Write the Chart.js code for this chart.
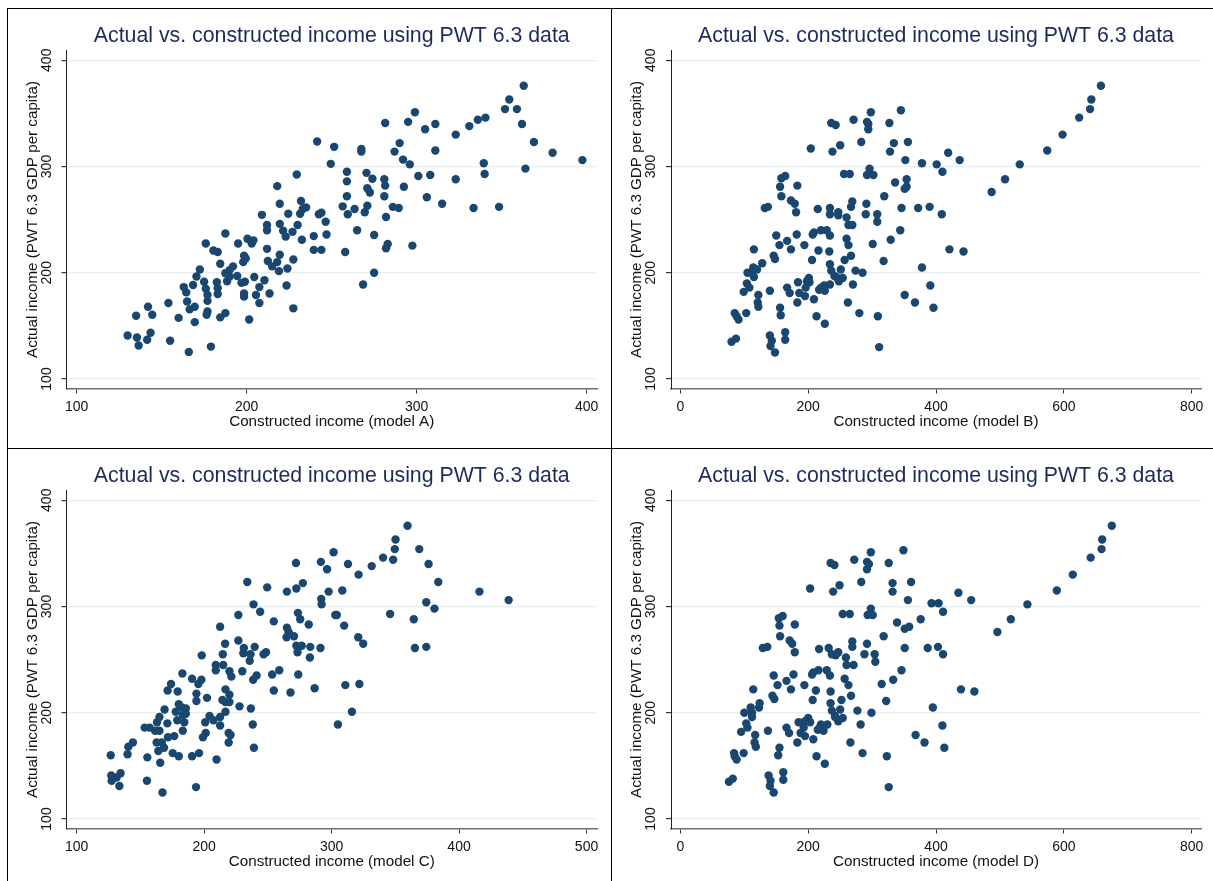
<!DOCTYPE html>
<html>
<head>
<meta charset="utf-8">
<script src="https://cdn.jsdelivr.net/npm/chart.js@4.4.1/dist/chart.umd.min.js"></script>
<style>
  html, body { margin: 0; padding: 0; background: #fff; overflow: hidden; }
  body { width: 1213px; height: 881px; position: relative; }
  canvas { position: absolute; }
  .rule { position: absolute; background: #000; z-index: 5; }
</style>
</head>
<body>
<div class="rule" style="left:7px; top:8px; width:1206px; height:1px;"></div>
<div class="rule" style="left:7px; top:8px; width:1px; height:873px;"></div>
<div class="rule" style="left:611px; top:8px; width:1px; height:873px;"></div>
<div class="rule" style="left:7px; top:448px; width:1206px; height:1px;"></div>

<canvas id="panelA" width="603" height="439" style="left:8px; top:9px;"></canvas>
<canvas id="panelB" width="603" height="439" style="left:612px; top:9px;"></canvas>
<canvas id="panelC" width="603" height="439" style="left:8px; top:449px;"></canvas>
<canvas id="panelD" width="603" height="439" style="left:612px; top:449px;"></canvas>

<script>
// shared text
const chartTitle = "Actual vs. constructed income using PWT 6.3 data";
const yTitle = "Actual income (PWT 6.3 GDP per capita)";
const yTicks = [100, 200, 300, 400];

// model A
const xTicksA = [100, 200, 300, 400];
const xA = [
  363, 354.5, 352, 359, 362, 369, 380, 397.5, 364, 348.5,
  333.5, 339.5, 340, 340.5, 336, 331, 323, 323, 315, 311,
  311, 308, 306, 305, 301, 299, 295, 296, 292, 290,
  287, 292.5, 297.5, 286, 289.5, 281.5, 281, 281.5, 281, 282,
  283, 282, 275, 268.5, 275, 274, 272.5, 271, 270.5, 271,
  269.5, 267.5, 267.5, 263.5, 265, 256.5, 259, 259, 259, 259.5,
  258, 251.5, 249.5, 241.5, 246.5, 247, 244, 242.5, 239.5, 239.5,
  244, 229.5, 232, 231.5, 235, 233, 230, 232.5, 227, 224.5,
  221.5, 223, 227.5, 224, 223.5, 227.5, 218, 219.5, 219.5, 219.5,
  218, 219, 212, 212, 212, 212.5, 215, 213.5, 209, 200.5,
  203, 204, 198.5, 199.5, 198, 197, 199, 198.5, 198.5, 204.5,
  207.5, 210.5, 205.5, 207.5, 201.5, 195, 194.5, 192, 190, 187.5,
  190, 188.5, 187.5, 184.5, 183, 180.5, 182.5, 183, 183, 187.5,
  184.5, 179, 176, 175, 176, 177, 177, 177, 176.5, 172.5,
  170.5, 168.5, 163, 164.5, 165, 166.5, 169.5, 169.5, 166, 160,
  154, 155, 142, 135, 144.5, 143.5, 141.5, 135.5, 136.5, 130
];
const yA = [
  376, 363, 354, 354, 340, 323, 313, 306, 298, 262,
  261, 303, 293, 346, 344, 338, 330, 288, 265, 340,
  315, 292, 271, 335, 291, 351, 342, 302, 306.5, 322,
  314, 281, 225.5, 262, 261, 341, 288, 282, 272, 252.5,
  227, 223, 200, 189, 235.5, 288.5, 275.5, 279.5, 294, 263,
  257, 316.5, 314, 260, 240, 262.5, 295, 286, 272, 255,
  219.5, 318.5, 302.5, 323.5, 248, 236, 256.5, 255, 234.5, 221.5,
  221.5, 292.5, 267.5, 255.5, 261.5, 260, 245, 231, 238.5, 255.5,
  239.5, 234, 212.5, 204, 188, 166.5, 281.5, 265, 246, 217,
  210, 201.5, 245, 240, 222.5, 211, 206, 180.5, 254.5, 232,
  227.5, 230.5, 216, 213.5, 210, 190.5, 191.5, 180.5, 177.5, 196,
  186.5, 193, 179, 171.5, 156, 227.5, 197, 206, 202.5, 199.5,
  196.5, 192, 237, 208.5, 219.5, 221, 191, 185.5, 180, 162,
  158, 130.5, 227.5, 191.5, 185, 179, 173.5, 163.5, 160.5, 203,
  196.5, 188.5, 186.5, 181.5, 173, 165.5, 168, 153.5, 125.5, 157.5,
  171.5, 136, 168, 159.5, 160.5, 143.5, 137, 139, 131.5, 141
];

// model B
const xTicksB = [0, 200, 400, 600, 800];
const xB = [
  658, 643, 641, 624, 598, 574, 531, 508, 487, 437,
  419, 401, 378, 410, 409, 390, 372, 421, 443, 378,
  391, 396, 367, 351, 345, 327, 334, 328, 356, 352,
  354, 351, 354, 336, 319, 346, 344, 329, 318, 301,
  311, 309, 308, 308, 298, 292, 294, 294, 296, 292,
  302, 291, 290, 283, 271, 269, 267, 269, 263, 260,
  260, 263, 267, 257, 251, 254, 248, 244, 270, 274,
  285, 280, 262, 256, 265, 250, 238, 236, 243, 247,
  234, 234, 247, 234, 233, 234, 236, 241, 234, 225,
  226, 226, 220, 217, 213, 209, 229, 220, 216, 215,
  209, 207, 206, 204, 201, 202, 198, 196, 195, 194,
  184, 186, 183, 183, 179, 181, 182, 173, 173, 167,
  167, 171, 164, 164, 164, 158, 156, 158, 156, 157,
  155, 150, 146, 148, 137, 132, 140, 140, 143, 141,
  148, 128, 122, 121, 122, 115, 114, 111, 115, 105,
  120, 104, 108, 99, 103, 85, 88, 91, 80, 87
];
const yB = [
  376, 363, 354, 346, 330, 315, 302, 288, 276, 306,
  313, 302, 303, 295, 255, 262, 261, 222, 220, 205,
  188, 167, 172, 179, 353, 341, 322, 314, 323, 306,
  288, 279, 281, 285, 272, 261, 240, 231, 211, 227,
  130, 159, 255, 248, 351, 342, 340, 335, 298, 292,
  292, 265, 255, 323, 344, 267, 262, 245, 245, 252,
  232, 226, 216, 212, 203, 195, 192, 196, 189, 202,
  200, 162, 172, 293, 293, 320, 314, 341, 339, 254,
  261, 255, 257, 235, 220, 208, 202, 197, 189, 188,
  183, 152, 186, 184, 159, 175, 240, 240, 221, 260,
  238, 236, 212, 317, 195, 191, 192, 186, 178, 226,
  191, 181, 172, 282, 265, 257, 236, 268, 222, 230,
  186, 181, 144, 137, 291, 289, 281, 272, 167, 160,
  226, 235, 216, 213, 262, 261, 183, 141, 136, 131,
  125, 209, 179, 172, 168, 222, 205, 200, 196, 200,
  203, 190, 186, 182, 162, 162, 159, 156, 135, 138
];

// model C
const xTicksC = [100, 200, 300, 400, 500];
const xC = [
  359.6, 350.2, 349.6, 348.3, 368.8, 340.4, 331.5, 321.2, 376.1, 383.7,
  416, 438.9, 374.3, 380.7, 345.9, 364.5, 365.4, 374.3, 320.9, 324.8,
  321.8, 310.8, 316, 305, 301.6, 291.6, 296.5, 297.7, 308.4, 291.9,
  292.2, 302.9, 304.1, 309.9, 312.9, 291.3, 283.3, 283, 286.7, 282.1,
  275.4, 273.6, 272.1, 272.4, 277.5, 265, 265, 266.3, 270.5, 264.7,
  276.6, 272.4, 273.3, 273.9, 267.8, 254.7, 259, 253.4, 254.7, 249.5,
  244, 238.8, 233.9, 226.9, 226.9, 231.2, 230.8, 239.7, 236.4, 235.8,
  248.6, 246.7, 241.2, 238.5, 230, 212.6, 216.5, 214.7, 215, 209.2,
  209.2, 219.9, 221.4, 198.2, 190.6, 197.9, 195.5, 216.8, 214.4, 216.8,
  219.9, 219.9, 216.8, 227.8, 236.7, 238.2, 239.1, 219.3, 220.8, 219.3,
  212.6, 212.6, 207.4, 204.3, 200.9, 202.3, 194, 194, 201.3, 199.1,
  209.8, 196.1, 193.7, 190.6, 183, 179.3, 174.1, 171.4, 180.2, 182.7,
  185.7, 185.7, 183.3, 177.8, 179, 184.5, 169, 165, 171.2, 163.1,
  161.6, 157.4, 153.4, 165, 171.7, 176.6, 183.3, 162.8, 166.8, 168.6,
  164.1, 175.4, 180.2, 155.5, 165.6, 167.4, 155.2, 144.2, 140.6, 140,
  126.8, 127.2, 127.5, 134.5, 133.6, 131.4
];
const yC = [
  376, 363, 354, 344, 354, 346, 338, 330, 340, 323,
  314, 306, 304, 298, 293, 288, 261, 262, 271, 265,
  227, 226, 201, 189, 351, 342, 335, 314, 315, 307,
  302, 292, 292, 282, 340, 261, 262, 252, 223, 283,
  288, 294, 341, 317, 322, 314, 280, 276, 272, 271,
  263, 263, 257, 236, 219, 286, 240, 236, 221, 318,
  295, 302, 323, 292, 268, 261, 256, 262, 255, 249,
  257, 255, 235, 231, 239, 281, 265, 255, 245, 245,
  240, 239, 234, 254, 232, 231, 227, 222, 212, 210,
  217, 210, 201, 206, 204, 189, 167, 181, 179, 172,
  196, 188, 193, 197, 191, 214, 218, 211, 181, 177,
  156, 162, 130, 159, 237, 220, 227, 221, 208, 205,
  204, 199, 198, 201, 193, 191, 203, 196, 190, 191,
  183, 186, 186, 183, 177, 178, 183, 172, 172, 167,
  164, 162, 159, 158, 153, 125, 136, 172, 168, 161,
  160, 141, 136, 143, 131, 139
];

// model D
const xTicksD = [0, 200, 400, 600, 800];
const xD = [
  675, 660, 659, 642, 614, 589, 543, 517, 496, 455,
  435, 404, 393, 411, 411, 403, 387, 439, 460, 395,
  410, 413, 382, 368, 349, 326, 332, 332, 361, 356,
  376, 351, 358, 339, 318, 351, 346, 333, 322, 315,
  326, 323, 304, 305, 298, 292, 295, 292, 298, 293,
  301, 292, 288, 283, 272, 269, 269, 271, 260, 259,
  257, 263, 267, 252, 250, 254, 247, 242, 282, 277,
  299, 285, 266, 254, 265, 249, 239, 235, 241, 247,
  232, 237, 243, 234, 235, 235, 237, 242, 230, 220,
  224, 226, 218, 215, 213, 208, 229, 216, 212, 217,
  208, 206, 207, 203, 200, 203, 195, 193, 195, 194,
  185, 188, 183, 179, 171, 179, 177, 175, 173, 166,
  166, 170, 161, 161, 160, 154, 155, 156, 155, 153,
  152, 146, 144, 147, 136, 129, 137, 138, 141, 140,
  146, 124, 123, 117, 116, 118, 114, 110, 112, 112,
  100, 103, 105, 95, 99, 84, 85, 88, 76, 82
];
const yD = [
  376, 363, 354, 346, 330, 315, 302, 288, 276, 306,
  313, 303, 303, 295, 255, 262, 261, 222, 220, 205,
  188, 167, 172, 179, 353, 341, 322, 314, 323, 306,
  288, 279, 281, 285, 272, 261, 240, 231, 211, 227,
  130, 159, 255, 248, 351, 342, 340, 335, 298, 292,
  292, 265, 255, 323, 344, 267, 262, 245, 245, 252,
  232, 226, 216, 212, 203, 195, 192, 196, 189, 202,
  200, 162, 172, 293, 293, 320, 314, 341, 339, 257,
  261, 255, 254, 235, 220, 209, 202, 197, 189, 189,
  183, 152, 186, 184, 159, 175, 240, 240, 221, 260,
  238, 236, 212, 317, 195, 191, 192, 186, 178, 226,
  191, 181, 172, 283, 268, 257, 236, 265, 222, 230,
  186, 181, 144, 137, 291, 289, 282, 272, 167, 160,
  226, 235, 216, 213, 262, 261, 183, 141, 136, 131,
  125, 209, 205, 179, 172, 168, 222, 205, 200, 196,
  200, 190, 186, 182, 162, 162, 159, 156, 135, 138
];

const FONT = '"Liberation Sans", Arial, Helvetica, sans-serif';
Chart.defaults.font.family = FONT;
Chart.defaults.color = '#111';

// y tick labels in Stata are turned on their side
const sideTickLabels = {
  id: 'sideTickLabels',
  afterDraw(chart) {
    const { ctx, chartArea, scales: { y } } = chart;
    ctx.save();
    ctx.font = '14px ' + FONT;
    ctx.fillStyle = '#111';
    ctx.textAlign = 'center';
    ctx.textBaseline = 'middle';
    y.ticks.forEach(t => {
      ctx.save();
      ctx.translate(chartArea.left - 19.5, y.getPixelForValue(t.value));
      ctx.rotate(-Math.PI / 2);
      ctx.fillText(String(t.value), 0, 0);
      ctx.restore();
    });
    ctx.restore();
  }
};

function drawPanel(id, xs, ys, xMin, xMax, xTicks, xLabel, yWidth) {
  new Chart(document.getElementById(id), {
    type: 'scatter',
    data: {
      datasets: [{
        data: xs.map((x, i) => ({ x: x, y: ys[i] })),
        backgroundColor: '#1a476f',
        borderWidth: 0,
        pointRadius: 4.2,
        pointHoverRadius: 4.2
      }]
    },
    options: {
      responsive: false,
      animation: false,
      devicePixelRatio: 1,
      layout: { padding: { left: 0, top: 0, right: 14, bottom: 0 } },
      plugins: {
        legend: { display: false },
        tooltip: { enabled: false },
        title: {
          display: true,
          text: chartTitle,
          fullSize: false,
          color: '#1c2b5c',
          font: { size: 21.3, weight: 'normal' },
          padding: { top: 14.2, bottom: 1.7 }
        }
      },
      scales: {
        x: {
          type: 'linear',
          min: xMin,
          max: xMax,
          afterBuildTicks: s => { s.ticks = xTicks.map(v => ({ value: v })); },
          afterFit: s => { s.height = 59.5; },
          border: { display: true, color: '#6e6e6e', width: 1.5 },
          grid: { drawOnChartArea: false, drawTicks: true, tickLength: 5, tickColor: '#333' },
          ticks: { font: { size: 14 }, color: '#111', padding: 5.5, maxRotation: 0 },
          title: { display: true, text: xLabel, font: { size: 15.2 }, color: '#111', padding: { top: 0, bottom: 17.2 } }
        },
        y: {
          type: 'linear',
          min: 91.06,
          max: 409.2,
          afterBuildTicks: s => { s.ticks = yTicks.map(v => ({ value: v })); },
          afterFit: s => { s.width = yWidth; },
          border: { display: true, color: '#222', width: 1 },
          grid: { color: '#e6eeee', lineWidth: 1.2, drawTicks: true, tickLength: 5, tickColor: '#333' },
          ticks: { display: false },
          title: { display: true, text: yTitle, font: { size: 15.2 }, color: '#111', padding: { top: 15.9, bottom: 0 } }
        }
      }
    },
    plugins: [sideTickLabels]
  });
}

drawPanel('panelA', xA, yA, 94.06, 406.1, xTicksA, 'Constructed income (model A)', 58.5);
drawPanel('panelB', xB, yB, -14.7, 814.6, xTicksB, 'Constructed income (model B)', 59);
drawPanel('panelC', xC, yC, 92.1, 508.2, xTicksC, 'Constructed income (model C)', 58.5);
drawPanel('panelD', xD, yD, -14.7, 814.6, xTicksD, 'Constructed income (model D)', 59);
</script>
</body>
</html>
